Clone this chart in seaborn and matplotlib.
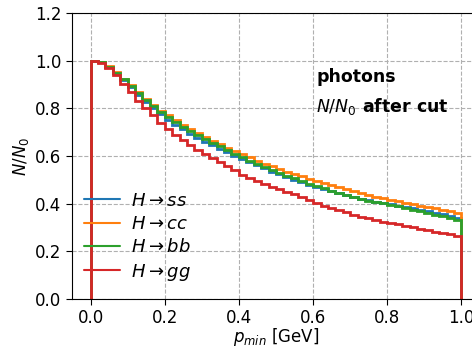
import numpy as np
import matplotlib
matplotlib.use("Agg")
import matplotlib.pyplot as plt
import seaborn as sns
from matplotlib.lines import Line2D

# ===================== data =====================
# fraction of events surviving a p_min cut, one value per 0.02 GeV bin
bin_edges = np.round(np.arange(0.0, 1.0001, 0.02), 2)

frac_ss = [1.000, 0.994, 0.973, 0.947, 0.918, 0.888, 0.857, 0.827, 0.800, 0.776,
           0.753, 0.732, 0.712, 0.693, 0.676, 0.660, 0.645, 0.630, 0.615, 0.601,
           0.588, 0.574, 0.561, 0.548, 0.535, 0.523, 0.512, 0.501, 0.490, 0.480,
           0.470, 0.461, 0.452, 0.444, 0.436, 0.428, 0.421, 0.414, 0.408, 0.403,
           0.398, 0.392, 0.386, 0.380, 0.374, 0.368, 0.362, 0.356, 0.350, 0.342]

frac_cc = [1.000, 0.995, 0.976, 0.952, 0.925, 0.896, 0.867, 0.839, 0.813, 0.790,
           0.770, 0.750, 0.732, 0.714, 0.697, 0.681, 0.665, 0.650, 0.635, 0.620,
           0.607, 0.594, 0.581, 0.568, 0.556, 0.545, 0.535, 0.525, 0.515, 0.505,
           0.496, 0.487, 0.478, 0.469, 0.460, 0.452, 0.444, 0.437, 0.430, 0.423,
           0.416, 0.410, 0.404, 0.398, 0.392, 0.386, 0.380, 0.374, 0.368, 0.361]

frac_bb = [1.000, 0.995, 0.975, 0.950, 0.922, 0.893, 0.863, 0.834, 0.808, 0.785,
           0.763, 0.742, 0.722, 0.704, 0.687, 0.671, 0.655, 0.640, 0.625, 0.610,
           0.596, 0.581, 0.567, 0.553, 0.540, 0.528, 0.517, 0.506, 0.495, 0.484,
           0.473, 0.464, 0.455, 0.446, 0.437, 0.428, 0.420, 0.413, 0.407, 0.401,
           0.396, 0.389, 0.382, 0.375, 0.368, 0.361, 0.354, 0.347, 0.340, 0.330]

frac_gg = [1.000, 0.992, 0.968, 0.938, 0.904, 0.868, 0.832, 0.800, 0.770, 0.740,
           0.712, 0.688, 0.666, 0.646, 0.627, 0.608, 0.590, 0.573, 0.556, 0.540,
           0.522, 0.509, 0.496, 0.484, 0.472, 0.461, 0.450, 0.439, 0.428, 0.417,
           0.404, 0.392, 0.382, 0.372, 0.363, 0.354, 0.346, 0.338, 0.331, 0.325,
           0.319, 0.313, 0.307, 0.301, 0.295, 0.289, 0.283, 0.277, 0.272, 0.265]

labels = [r"$H\rightarrow ss$", r"$H\rightarrow cc$",
          r"$H\rightarrow bb$", r"$H\rightarrow gg$"]

# ===================== style =====================
sns.set_style("ticks")
plt.rcParams["font.family"] = ["DejaVu Sans"]
plt.rcParams["axes.grid"] = True
plt.rcParams["grid.linestyle"] = "--"
plt.rcParams["grid.color"] = "#b0b0b0"
plt.rcParams["grid.linewidth"] = 0.8
plt.rcParams["xtick.labelsize"] = 12
plt.rcParams["ytick.labelsize"] = 12
plt.rcParams["text.color"] = "black"
plt.rcParams["axes.labelcolor"] = "black"

colors = sns.color_palette("tab10", 4)

fig = plt.figure(figsize=(4.72, 3.47), dpi=100)
ax = fig.add_axes([0.1525, 0.1383, 0.8645, 0.8242])

centers = bin_edges[:-1] + 0.01
for vals, lab, col in zip([frac_ss, frac_cc, frac_bb, frac_gg], labels, colors):
    ax.hist(centers, bins=bin_edges, weights=vals, histtype="step",
            color=col, lw=2, label=lab)

ax.set_xlim(-0.05, 1.05)
ax.set_ylim(0.0, 1.2)
ax.set_xticks([0.0, 0.2, 0.4, 0.6, 0.8, 1.0])
ax.set_yticks([0.0, 0.2, 0.4, 0.6, 0.8, 1.0, 1.2])
for s in ax.spines.values():
    s.set_color("black")
ax.tick_params(colors="black", direction="out", length=4)

ax.set_xlabel(r"$p_{min}$ [GeV]", fontsize=12, labelpad=-1)
ax.set_ylabel(r"$N/N_0$", fontsize=12, labelpad=3)

ax.text(0.608, 0.91, "photons", fontsize=12.5, fontweight="bold")
ax.text(0.608, 0.785, r"$N/N_0$ after cut", fontsize=12.5, fontweight="bold")

handles = [Line2D([], [], color=c, lw=1.5) for c in colors]
ax.legend(handles, labels, loc="lower left", frameon=False, fontsize=13,
          bbox_to_anchor=(-0.01, 0.0), handlelength=2.0, handletextpad=0.6,
          labelspacing=0.3)

fig.savefig("out.png", dpi=100)
